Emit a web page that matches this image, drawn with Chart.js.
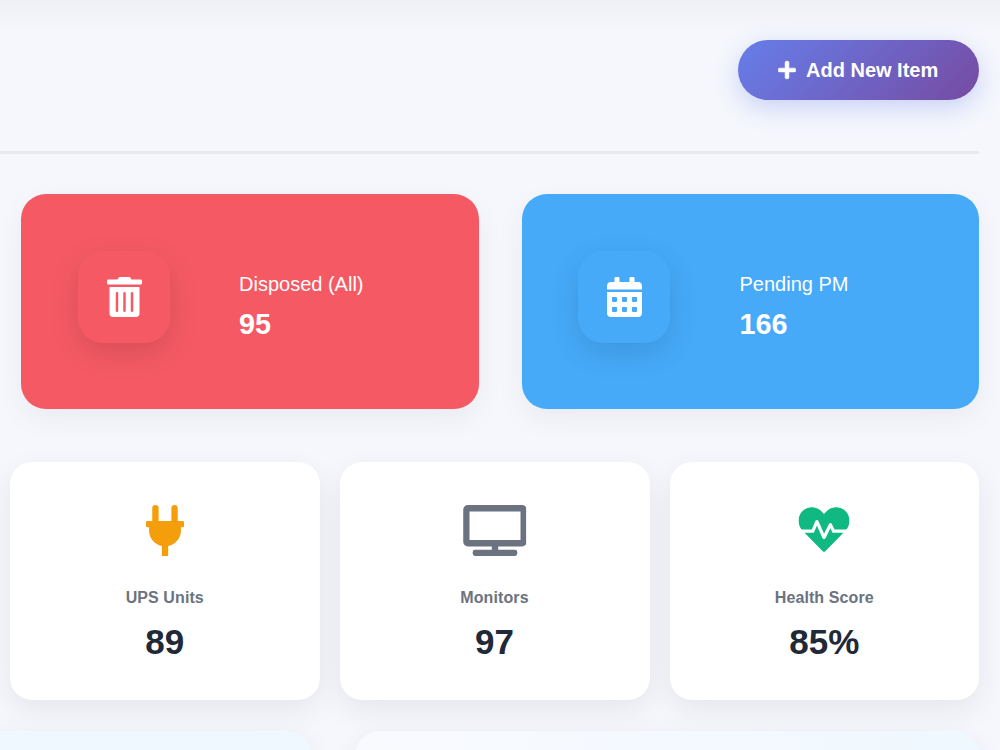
<!DOCTYPE html>
<html><head><meta charset="utf-8">
<script src="https://cdn.jsdelivr.net/npm/chart.js@4"></script>
<style>
*{box-sizing:border-box}
html,body{margin:0;padding:0;height:750px;width:1000px;overflow:hidden;background:#f5f7fc;font-family:"Liberation Sans",Arial,sans-serif}
.abs{position:absolute}
#topstrip{left:-40px;top:-100px;width:1080px;height:100px;box-shadow:0 10px 30px rgba(0,0,0,.04);background:#f5f7fc}
#rule{left:0;top:151px;width:979px;height:3px;background:#e8eaf0}
#btn{left:738px;top:40px;width:241px;height:60px;border-radius:30px;background:linear-gradient(135deg,#667eea,#764ba2);box-shadow:0 8px 25px rgba(102,126,234,.3);color:#fff;font-weight:700;font-size:20px;}
#btn svg{position:absolute;left:40px;top:20px;width:18px;height:20px;fill:#fff;stroke:#fff;stroke-width:16}
#btn span{position:absolute;left:68px;top:19px;line-height:23px;white-space:nowrap}
.big{top:194px;width:457.5px;height:215px;border-radius:25px;color:#fff;box-shadow:0 10px 30px rgba(0,0,0,.05)}
.big .ic{position:absolute;top:57px;width:92px;height:92px;border-radius:25px;box-shadow:0 10px 30px rgba(0,0,0,.12)}
.big svg{position:absolute;left:28.5px;top:26px;width:35px;height:40px;fill:#fff}
.big .t{position:absolute;left:218px;top:78px;font-size:20px;line-height:24px;white-space:nowrap}
.big .v{position:absolute;left:218px;top:113px;font-size:28.8px;line-height:34px;font-weight:700}
.small{top:462px;height:238px;border-radius:22px;background:#fff;box-shadow:0 10px 30px rgba(0,0,0,.07);text-align:center}
.small svg{position:absolute;top:43px;height:51px;left:50%;transform:translateX(-50%)}
.small .t{position:absolute;left:0;right:0;top:126px;font-size:16px;line-height:20px;font-weight:700;color:#6b7280;letter-spacing:.1px}
.small .v{position:absolute;left:0;right:0;top:159px;font-size:35px;line-height:41px;font-weight:700;color:#1f2937}
.bottom{top:731px;height:400px;border-radius:25px;box-shadow:0 10px 30px rgba(0,0,0,.07)}
#chartBox{position:absolute;left:20px;right:20px;top:60px;height:300px}
</style></head><body>
<div id="topstrip" class="abs"></div>
<div id="rule" class="abs"></div>
<div id="btn" class="abs"><svg viewBox="0 0 448 512"><path d="M416 208H272V64c0-17.67-14.33-32-32-32h-32c-17.67 0-32 14.33-32 32v144H32c-17.67 0-32 14.33-32 32v32c0 17.67 14.33 32 32 32h144v144c0 17.67 14.33 32 32 32h32c17.67 0 32-14.33 32-32V304h144c17.67 0 32-14.33 32-32v-32c0-17.67-14.33-32-32-32z"/></svg><span id="btnText"></span></div>
<div id="cards"></div>
<div class="abs bottom" style="left:-150px;width:462px;background:#eff8ff"></div>
<div class="abs bottom" style="left:355px;width:624px;background:linear-gradient(90deg,#f9fafe,#eff8ff)"><div id="chartBox"><canvas id="kpi"></canvas></div></div>
<script>
const buttonLabel = "Add New Item";
const bigLabels = ["Disposed (All)", "Pending PM"];
const bigValues = ["95", "166"];
const smallLabels = ["UPS Units", "Monitors", "Health Score"];
const smallValues = ["89", "97", "85%"];
const smallNumbers = [89, 97, 85];

const trash = '<svg viewBox="0 0 448 512"><path d="M32 464a48 48 0 0 0 48 48h288a48 48 0 0 0 48-48V128H32zm272-256a16 16 0 0 1 32 0v224a16 16 0 0 1-32 0zm-96 0a16 16 0 0 1 32 0v224a16 16 0 0 1-32 0zm-96 0a16 16 0 0 1 32 0v224a16 16 0 0 1-32 0zM432 32H312l-9.4-18.7A24 24 0 0 0 281.1 0H166.8a23.72 23.72 0 0 0-21.4 13.3L136 32H16A16 16 0 0 0 0 48v32a16 16 0 0 0 16 16h416a16 16 0 0 0 16-16V48a16 16 0 0 0-16-16z"/></svg>';
const cal = '<svg viewBox="0 0 448 512"><path d="M0 464c0 26.5 21.5 48 48 48h352c26.5 0 48-21.5 48-48V192H0v272zm320-196c0-6.6 5.4-12 12-12h40c6.6 0 12 5.4 12 12v40c0 6.6-5.4 12-12 12h-40c-6.6 0-12-5.4-12-12v-40zm0 128c0-6.6 5.4-12 12-12h40c6.6 0 12 5.4 12 12v40c0 6.6-5.4 12-12 12h-40c-6.6 0-12-5.4-12-12v-40zM192 268c0-6.6 5.4-12 12-12h40c6.6 0 12 5.4 12 12v40c0 6.6-5.4 12-12 12h-40c-6.6 0-12-5.4-12-12v-40zm0 128c0-6.6 5.4-12 12-12h40c6.6 0 12 5.4 12 12v40c0 6.6-5.4 12-12 12h-40c-6.6 0-12-5.4-12-12v-40zM64 268c0-6.6 5.4-12 12-12h40c6.6 0 12 5.4 12 12v40c0 6.6-5.4 12-12 12H76c-6.6 0-12-5.4-12-12v-40zm0 128c0-6.6 5.4-12 12-12h40c6.6 0 12 5.4 12 12v40c0 6.6-5.4 12-12 12H76c-6.6 0-12-5.4-12-12v-40zM400 64h-48V16c0-8.8-7.2-16-16-16h-32c-8.8 0-16 7.2-16 16v48H160V16c0-8.8-7.2-16-16-16h-32c-8.8 0-16 7.2-16 16v48H48C21.5 64 0 85.5 0 112v48h448v-48c0-26.5-21.5-48-48-48z"/></svg>';
const plug = '<svg viewBox="0 0 384 512" style="fill:#f59e0b"><path d="M320,32a32,32,0,0,0-64,0v128h64Zm48,128H16A16,16,0,0,0,0,176v32a16,16,0,0,0,16,16H32v32A160.07,160.07,0,0,0,160,412.8V512h64V412.8A160.07,160.07,0,0,0,352,256V224h16a16,16,0,0,0,16-16V176A16,16,0,0,0,368,160ZM128,32a32,32,0,0,0-64,0v128h64Z"/></svg>';
const tv = '<svg viewBox="0 0 640 512" style="fill:#6b7280"><path d="M592 0H48A48 48 0 0 0 0 48v320a48 48 0 0 0 48 48h240v32H120a24 24 0 0 0-24 24v16a24 24 0 0 0 24 24h400a24 24 0 0 0 24-24v-16a24 24 0 0 0-24-24H352v-32h240a48 48 0 0 0 48-48V48a48 48 0 0 0-48-48zm-16 352H64V64h512z"/></svg>';
const heart = '<svg viewBox="0 0 512 512" style="fill:#10b981;margin-top:-1px"><path d="M320.2 243.8l-49.7 99.4c-6 12.1-23.4 11.7-28.9-.6l-56.9-126.3-30 71.7H60.6l182.5 186.5c7.1 7.3 18.6 7.3 25.7 0L451.4 288H342.3l-22.1-44.2zM473.7 73.9l-2.4-2.5c-51.5-52.6-135.8-52.6-187.4 0L256 100l-27.9-28.5c-51.5-52.7-135.9-52.7-187.4 0l-2.4 2.4C-10.4 123.7-12.5 203 31 256h102.4l35.9-86.2c5.4-12.9 23.6-13.2 29.4-.4l58.2 129.3 49-97.9c5.9-11.8 22.7-11.8 28.6 0l27.6 55.2H481c43.5-53 41.4-132.3-7.3-182.1z"/></svg>';

document.getElementById('btnText').textContent = buttonLabel;
const host = document.getElementById('cards');
let html = '';
[[21,57,'#f55a64',trash],[521.5,56.5,'#46aaf9',cal]].forEach((c,i)=>{
  html += `<div class="abs big" style="left:${c[0]}px;background:${c[2]}"><div class="ic" style="left:${c[1]}px;background:${c[2]}">${c[3]}</div><div class="t">${bigLabels[i]}</div><div class="v">${bigValues[i]}</div></div>`;
});
[[9.5,310.5,plug],[339.5,310,tv],[669.5,309.5,heart]].forEach((c,i)=>{
  html += `<div class="abs small" style="left:${c[0]}px;width:${c[1]}px">${c[2]}<div class="t">${smallLabels[i]}</div><div class="v">${smallValues[i]}</div></div>`;
});
host.innerHTML = html;

new Chart(document.getElementById('kpi'), {
  type: 'bar',
  data: { labels: smallLabels, datasets: [{ label: 'Inventory', data: smallNumbers, backgroundColor: ['#f59e0b','#6b7280','#10b981'] }] },
  options: { responsive: true, maintainAspectRatio: false, animation: false, plugins: { legend: { display: false } } }
});
</script>
</body></html>
